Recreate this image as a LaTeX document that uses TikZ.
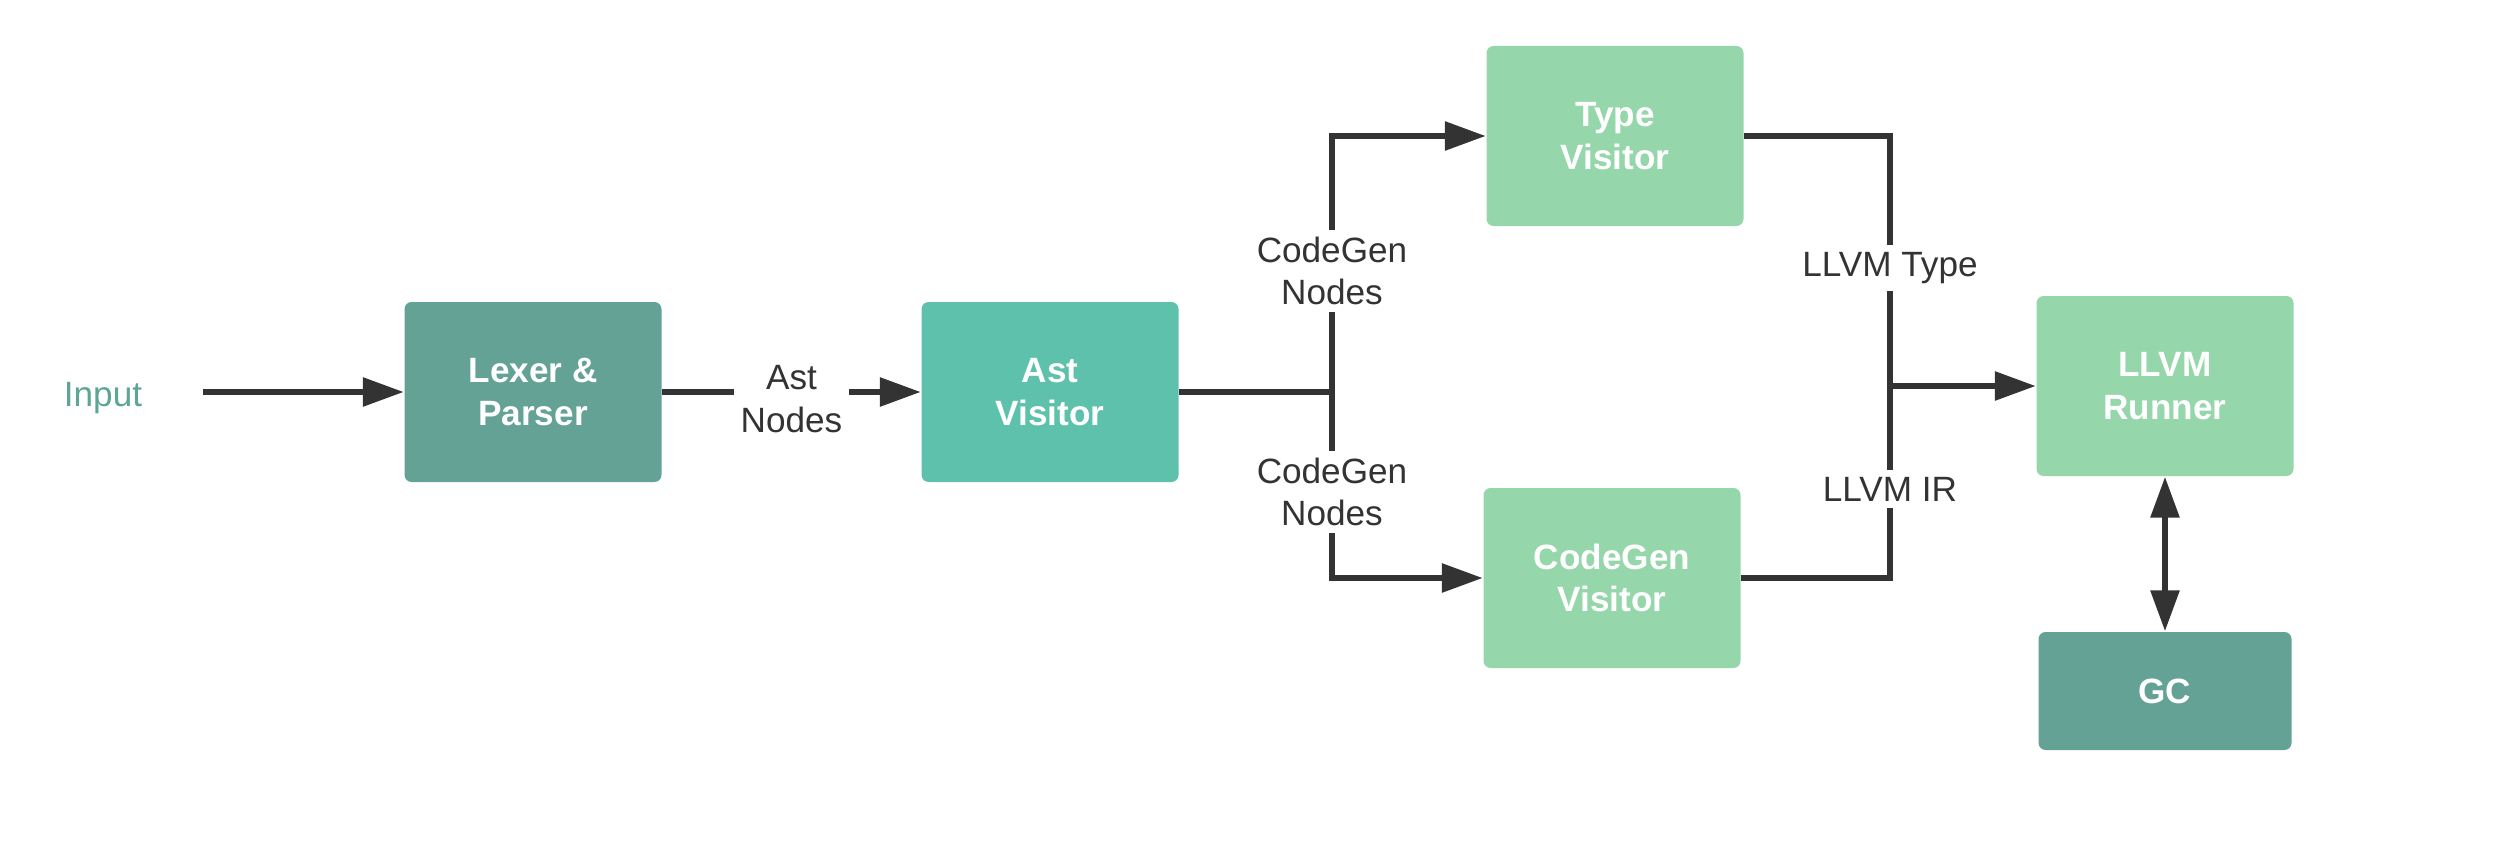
\documentclass[tikz,border=0pt]{standalone}
\usepackage{fontspec}
\setmainfont{Liberation Sans}
\usetikzlibrary{arrows.meta}
\definecolor{dunkelgruen}{HTML}{64A296}
\definecolor{tuerkis}{HTML}{5DC1AB}
\definecolor{hellgruen}{HTML}{95D7AA}
\definecolor{linie}{HTML}{333333}
\definecolor{eingabe}{HTML}{5BA695}
\tikzset{
	stufe/.style={rounded corners=2pt, minimum width=2.57cm, minimum height=1.8cm,
		text=white, font=\bfseries, align=center, inner sep=0pt},
	verbindung/.style={line width=1.7pt, draw=linie},
	pfeil/.style={verbindung, -{Triangle[length=0.41cm, width=0.28cm]}},
	doppelpfeil/.style={verbindung, {Triangle[length=0.41cm, width=0.28cm]}-{Triangle[length=0.41cm, width=0.28cm]}},
	beschriftung/.style={fill=white, text=linie, align=center, inner sep=2pt, yshift=-0.07cm}
}
\begin{document}
\begin{tikzpicture}
	\useasboundingbox (0, 0) rectangle (25.10, 8.42);
	% Eingabe
	\node[text=eingabe] (input) at (1.03, 4.44) {Input};
	\coordinate (start) at (2.03, 4.50);
	% Stufen
	\node[stufe, fill=dunkelgruen] (lexer) at (5.33, 4.50) {Lexer \&\\Parser};
	\node[stufe, fill=tuerkis] (ast) at (10.50, 4.50) {Ast\\Visitor};
	\node[stufe, fill=hellgruen] (type) at (16.15, 7.06) {Type\\Visitor};
	\node[stufe, fill=hellgruen] (codegen) at (16.12, 2.64) {CodeGen\\Visitor};
	\node[stufe, fill=hellgruen] (runner) at (21.65, 4.56) {LLVM\\Runner};
	\node[stufe, fill=dunkelgruen, minimum width=2.53cm, minimum height=1.18cm] (gc)
	at (21.65, 1.51) {GC};
	% Verzweigungen
	\coordinate (split) at (13.32, 4.50);
	\coordinate (merge) at (18.90, 4.56);
	% Verbindungen
	\draw[pfeil] (start) -- (lexer);
	\draw[pfeil] (lexer) -- node[beschriftung] {Ast\\Nodes} (ast);
	\draw[verbindung] (ast) -- (split);
	\draw[pfeil] (split) |- node[pos=0.25, beschriftung] {CodeGen\\Nodes} (type);
	\draw[pfeil] (split) |- node[pos=0.25, beschriftung] {CodeGen\\Nodes} (codegen);
	\draw[verbindung] (type) -| node[pos=0.75, beschriftung] {LLVM Type} (merge);
	\draw[verbindung] (codegen) -| node[pos=0.75, beschriftung] {LLVM IR} (merge);
	\draw[pfeil] (merge) -- (runner);
	\draw[doppelpfeil] (runner) -- (gc);
\end{tikzpicture}
\end{document}
